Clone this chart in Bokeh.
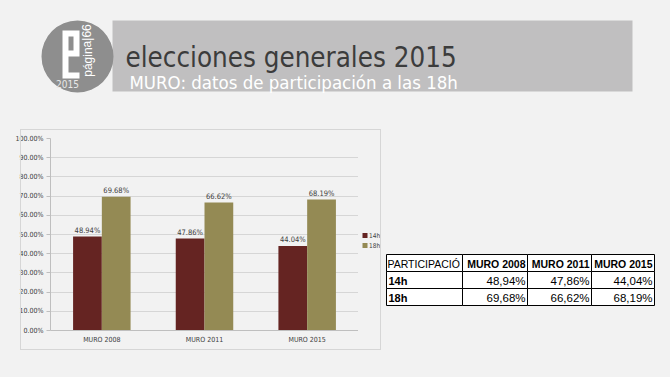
from bokeh.plotting import figure
from bokeh.layouts import column, row
from bokeh.models import ColumnDataSource, FactorRange, PrintfTickFormatter, Range1d
from bokeh.transform import dodge
from bokeh.core.properties import value
from bokeh.embed import file_html
from bokeh.resources import INLINE

# ---------------- data ----------------
categories = ["MURO 2008", "MURO 2011", "MURO 2015"]
series = ["14h", "18h"]
v14 = [48.94, 47.86, 44.04]
v18 = [69.68, 66.62, 68.19]
y_ticks = [0, 10, 20, 30, 40, 50, 60, 70, 80, 90, 100]
title = "elecciones generales 2015"
subtitle = "MURO: datos de participación a las 18h"
table_header = ["PARTICIPACIÓ", "MURO 2008", "MURO 2011", "MURO 2015"]
logo_text = "página|66"
logo_year = "2015"

BG = "#f2f2f2"
NARROW = "DejaVu Sans Condensed, Liberation Sans Narrow, Roboto Condensed, Roboto, sans-serif"
SANS = "Liberation Sans"
C14 = "#652422"
C18 = "#948a54"
COLORS = [C14, C18]
TXT = "#404040"


def blank(fig):
    fig.axis.visible = False
    fig.grid.visible = False
    fig.outline_line_color = None
    fig.background_fill_color = BG
    fig.border_fill_color = BG


# ---------------- header ----------------
hdr = figure(width=670, height=128, x_range=Range1d(0, 670), y_range=Range1d(128, 0),
             output_backend="svg", toolbar_location=None, min_border=0)
blank(hdr)
hdr.quad(left=[112], right=[632], top=[20], bottom=[91], fill_color="#c0bfc0", line_color=None)
hdr.circle(x=[77], y=[56], radius=36, fill_color="#8e8e8e", line_color=None)
hdr.line(x=[65, 76, 76, 65, 65, 79], y=[53, 53, 33, 33, 75, 75], line_color="white",
         line_width=6, line_join="miter")
hdr.text(x=[87], y=[50], text=[logo_text], angle=1.5708, text_align="center",
         text_baseline="middle", text_color="white", text_font=value(SANS),
         text_font_size="12px")
hdr.text(x=[67], y=[83], text=[logo_year], text_align="center", text_baseline="middle",
         text_color="#e8e8e8", text_font=value(NARROW), text_font_size="10px")
hdr.text(x=[125], y=[56], text=[title], text_align="left", text_baseline="alphabetic",
         text_color="#3c3c3c", text_font=value(NARROW), text_font_size="27.5px")
hdr.text(x=[129], y=[82], text=[subtitle], text_align="left", text_baseline="alphabetic",
         text_color="white", text_font=value(NARROW), text_font_size="18.5px")

# ---------------- chart ----------------
src = ColumnDataSource(dict(
    cat=categories, v14=v14, v18=v18,
    l14=["%.2f%%" % v for v in v14], l18=["%.2f%%" % v for v in v18]))

p = figure(width=358, height=249, x_range=FactorRange(factors=categories), y_range=Range1d(0, 100),
           output_backend="svg", toolbar_location=None,
           min_border_left=50, min_border_right=0, min_border_top=10, min_border_bottom=47)
p.background_fill_color = BG
p.border_fill_color = BG
p.outline_line_color = None

p.vbar(x=dodge("cat", -0.14, range=p.x_range), top="v14", width=0.28, source=src,
       fill_color=C14, line_color=None)
p.vbar(x=dodge("cat", 0.14, range=p.x_range), top="v18", width=0.28, source=src,
       fill_color=C18, line_color=None)
p.text(x=dodge("cat", -0.14, range=p.x_range), y="v14", text="l14", source=src,
       text_align="center", text_baseline="bottom", y_offset=-2,
       text_font=value(NARROW), text_font_size="7.5px", text_color=TXT)
p.text(x=dodge("cat", 0.14, range=p.x_range), y="v18", text="l18", source=src,
       text_align="center", text_baseline="bottom", y_offset=-2,
       text_font=value(NARROW), text_font_size="7.5px", text_color=TXT)

p.yaxis.ticker = y_ticks
p.yaxis.formatter = PrintfTickFormatter(format="%.2f%%")
p.ygrid.grid_line_color = "#d6d6d6"
p.xgrid.visible = False
for ax in (p.xaxis[0], p.yaxis[0]):
    ax.axis_line_color = "#bfbfbf"
    ax.major_tick_line_color = "#bfbfbf"
    ax.minor_tick_line_color = None
    ax.major_label_text_font = NARROW
    ax.major_label_text_font_size = "7px"
    ax.major_label_text_color = TXT
p.yaxis.major_tick_out = 4
p.yaxis.major_tick_in = 0
p.yaxis.major_label_standoff = 3
p.xaxis.major_tick_line_color = None
p.xaxis.major_tick_out = 0
p.xaxis.major_tick_in = 0
p.xaxis.major_label_standoff = 5

# ---------------- table + legend panel ----------------
# frame of this figure is aligned with the chart's frame (page y 138..330)
tbl = figure(width=312, height=249, x_range=Range1d(358, 670), y_range=Range1d(330, 138),
             output_backend="svg", toolbar_location=None, min_border_left=0,
             min_border_right=0, min_border_top=10, min_border_bottom=47)
blank(tbl)

# legend of the chart's two series
leg_y = [235 + 10 * i for i in range(len(series))]
tbl.quad(left=[362] * len(series), right=[367] * len(series),
         top=[y - 2.5 for y in leg_y], bottom=[y + 2.5 for y in leg_y],
         fill_color=COLORS, line_color=None)
tbl.text(x=[368.5] * len(series), y=leg_y, text=series, text_align="left",
         text_baseline="middle", text_font=value(NARROW), text_font_size="6.5px",
         text_color=TXT)

xs = [386, 462, 527, 591, 654]
ys = [254, 271, 288, 305]
rows_vals = [v14, v18]
L, R, T, B = [], [], [], []
for ri in range(3):
    for ci in range(4):
        L.append(xs[ci]); R.append(xs[ci + 1]); T.append(ys[ri]); B.append(ys[ri + 1])
tbl.quad(left=L, right=R, top=T, bottom=B, fill_color="white", line_color="black", line_width=1)

hx, hy, ht = [], [], []
tx, ty, tt = [], [], []
tbl.text(x=[xs[0] + 1], y=[(ys[0] + ys[1]) / 2 + 1], text=[table_header[0]], text_align="left",
         text_baseline="middle", text_font=value(SANS), text_font_size="10.5px",
         text_color="black")
for ci, h in enumerate(table_header[1:]):
    hx.append(xs[ci + 2] - 2); hy.append((ys[0] + ys[1]) / 2 + 1); ht.append(h)
sx, sy = [], []
for ri, s in enumerate(series):
    sx.append(xs[0] + 2); sy.append((ys[ri + 1] + ys[ri + 2]) / 2 + 1)
    for ci, v in enumerate(rows_vals[ri]):
        tx.append(xs[ci + 2] - 2); ty.append((ys[ri + 1] + ys[ri + 2]) / 2 + 1)
        tt.append(("%.2f" % v).replace(".", ",") + "%")
tbl.text(x=hx, y=hy, text=ht, text_align="right", text_baseline="middle",
         text_font=value(SANS), text_font_size="10.5px", text_font_style="bold", text_color="black")
tbl.text(x=sx, y=sy, text=series, text_align="left", text_baseline="middle",
         text_font=value(SANS), text_font_size="11px", text_font_style="bold", text_color="black")
tbl.text(x=tx, y=ty, text=tt, text_align="right", text_baseline="middle",
         text_font=value(SANS), text_font_size="11.5px", text_color="black")

layout = column(hdr, row(p, tbl, spacing=0, styles={"background-color": BG}),
                spacing=0, styles={"background-color": BG})
# light frame around the chart area
layout.stylesheets = [":host::after { content: ''; position: absolute; left: 20px; top: 129px; "
                      "width: 359px; height: 219px; border: 1px solid #d6d6d6; "
                      "pointer-events: none; }"]
open("out.html", "w").write(file_html(layout, INLINE))
